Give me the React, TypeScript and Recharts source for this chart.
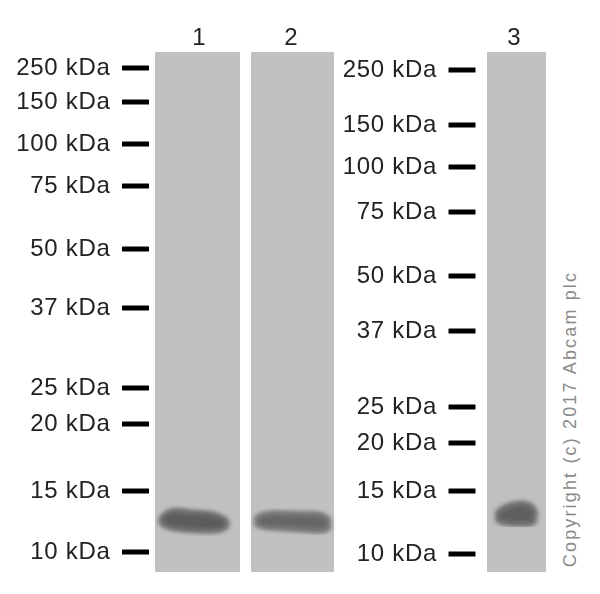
import React from "react";
import { ComposedChart, XAxis, YAxis, Scatter, Area, ReferenceArea } from "recharts";

// Gel coordinates: x = lateral position, y = migration distance, both.
const kdaLabels = ["250 kDa", "150 kDa", "100 kDa", "75 kDa", "50 kDa", "37 kDa", "25 kDa", "20 kDa", "15 kDa", "10 kDa"];
const leftMigration = [68, 102, 144, 186, 249, 308, 388, 424, 491, 552];
const rightMigration = [70, 125, 167, 212, 276, 331, 407, 443, 491, 554];
const leftMarkerX = 135.5;
const rightMarkerX = 462;

const laneNames = ["1", "2", "3"];
const laneNameX = [199, 291, 514];
const laneStart = [155, 251, 487];
const laneEnd = [240, 334, 546];
const gelTop = 52;
const gelBottom = 572;
const laneNameY = 36;

const band1X = [160, 167, 177, 190, 210, 222, 228];
const band1Top = [520, 512, 510, 513, 513, 517, 523];
const band1Bottom = [522, 527, 529, 530, 531, 530, 525];
const band2X = [255, 263, 277, 293, 307, 320, 326, 330];
const band2Top = [519, 514, 513, 514, 514, 514, 517, 522];
const band2Bottom = [524, 527, 528, 529, 530, 531, 530, 526];
const band3X = [496, 502, 520, 530, 535, 536];
const band3Top = [515, 507, 503, 504, 511, 516];
const band3Bottom = [519, 523, 524, 524, 521, 519];

const copyright = "Copyright (c) 2017 Abcam plc";

const toBand = (xs: number[], top: number[], bottom: number[]) =>
  xs.map((x, i) => ({ x, range: [top[i], bottom[i]] }));
const toLadder = (ys: number[], x: number) => ys.map((y, i) => ({ x, y, label: kdaLabels[i] }));

const FONT = "'Liberation Sans', Arial, sans-serif";

const Marker = (props: any) => {
  const { cx, cy, payload } = props;
  return (
    <g>
      <rect x={cx - 13.5} y={cy - 2.5} width={27} height={5} fill="#000" rx={0.5} />
      <text
        x={cx - 25}
        y={cy - 1.5}
        dy="0.36em"
        textAnchor="end"
        fontFamily={FONT}
        fontSize={24}
        letterSpacing={0.7}
        fill="#222"
        style={{ filter: "blur(0.4px)" }}
      >
        {payload.label}
      </text>
    </g>
  );
};

const LaneName = (props: any) => {
  const { cx, cy, payload } = props;
  return (
    <text x={cx} y={cy} dy="0.36em" textAnchor="middle" fontFamily={FONT} fontSize={24} fill="#222" style={{ filter: "blur(0.4px)" }}>
      {payload.name}
    </text>
  );
};

const Watermark = (props: any) => {
  const { cx, cy } = props;
  return (
    <text
      x={cx}
      y={cy}
      dy="0.36em"
      textAnchor="middle"
      fontFamily={FONT}
      fontSize={18}
      letterSpacing={2.15}
      fill="#8a8a8a"
      transform={`rotate(-90 ${cx} ${cy})`}
    >
      {copyright}
    </text>
  );
};

const laneNamePoints = laneNames.map((name, i) => ({ name, x: laneNameX[i], y: laneNameY }));
const bands = [toBand(band1X, band1Top, band1Bottom), toBand(band2X, band2Top, band2Bottom), toBand(band3X, band3Top, band3Bottom)];
const bandShades = ["#5c5c5c", "#666666", "#5e5e5e"];

export default function App() {
  return (
    <div style={{ position: "absolute", left: 0, top: 0, width: 600, height: 594, background: "#fff" }}>
      <ComposedChart width={600} height={594} margin={{ top: 0, right: 0, bottom: 0, left: 0 }}>
        <defs>
          <filter id="bandBlur" x="-20%" y="-60%" width="140%" height="220%">
            <feGaussianBlur stdDeviation="2.6" />
          </filter>
          <filter id="laneBlur" x="-5%" y="-2%" width="110%" height="104%">
            <feGaussianBlur stdDeviation="0.5" />
          </filter>
        </defs>
        <XAxis type="number" dataKey="x" domain={[0, 600]} hide allowDataOverflow />
        <YAxis type="number" dataKey="y" domain={[0, 594]} reversed hide width={0} allowDataOverflow />
        {laneStart.map((x1, i) => (
          <ReferenceArea key={i} x1={x1} x2={laneEnd[i]} y1={gelTop} y2={gelBottom} fill="#c1c1c1" fillOpacity={1} stroke="none" filter="url(#laneBlur)" />
        ))}
        {bands.map((b, i) => (
          <Area
            key={i}
            data={b}
            dataKey="range"
            type="basis"
            fill={bandShades[i]}
            fillOpacity={1}
            stroke={bandShades[i]}
            strokeWidth={4}
            filter="url(#bandBlur)"
            dot={false}
            activeDot={false}
            isAnimationActive={false}
          />
        ))}
        <Scatter data={toLadder(leftMigration, leftMarkerX)} shape={<Marker />} isAnimationActive={false} />
        <Scatter data={toLadder(rightMigration, rightMarkerX)} shape={<Marker />} isAnimationActive={false} />
        <Scatter data={laneNamePoints} shape={<LaneName />} isAnimationActive={false} />
        <Scatter data={[{ x: 570, y: 419 }]} shape={<Watermark />} isAnimationActive={false} />
      </ComposedChart>
    </div>
  );
}
